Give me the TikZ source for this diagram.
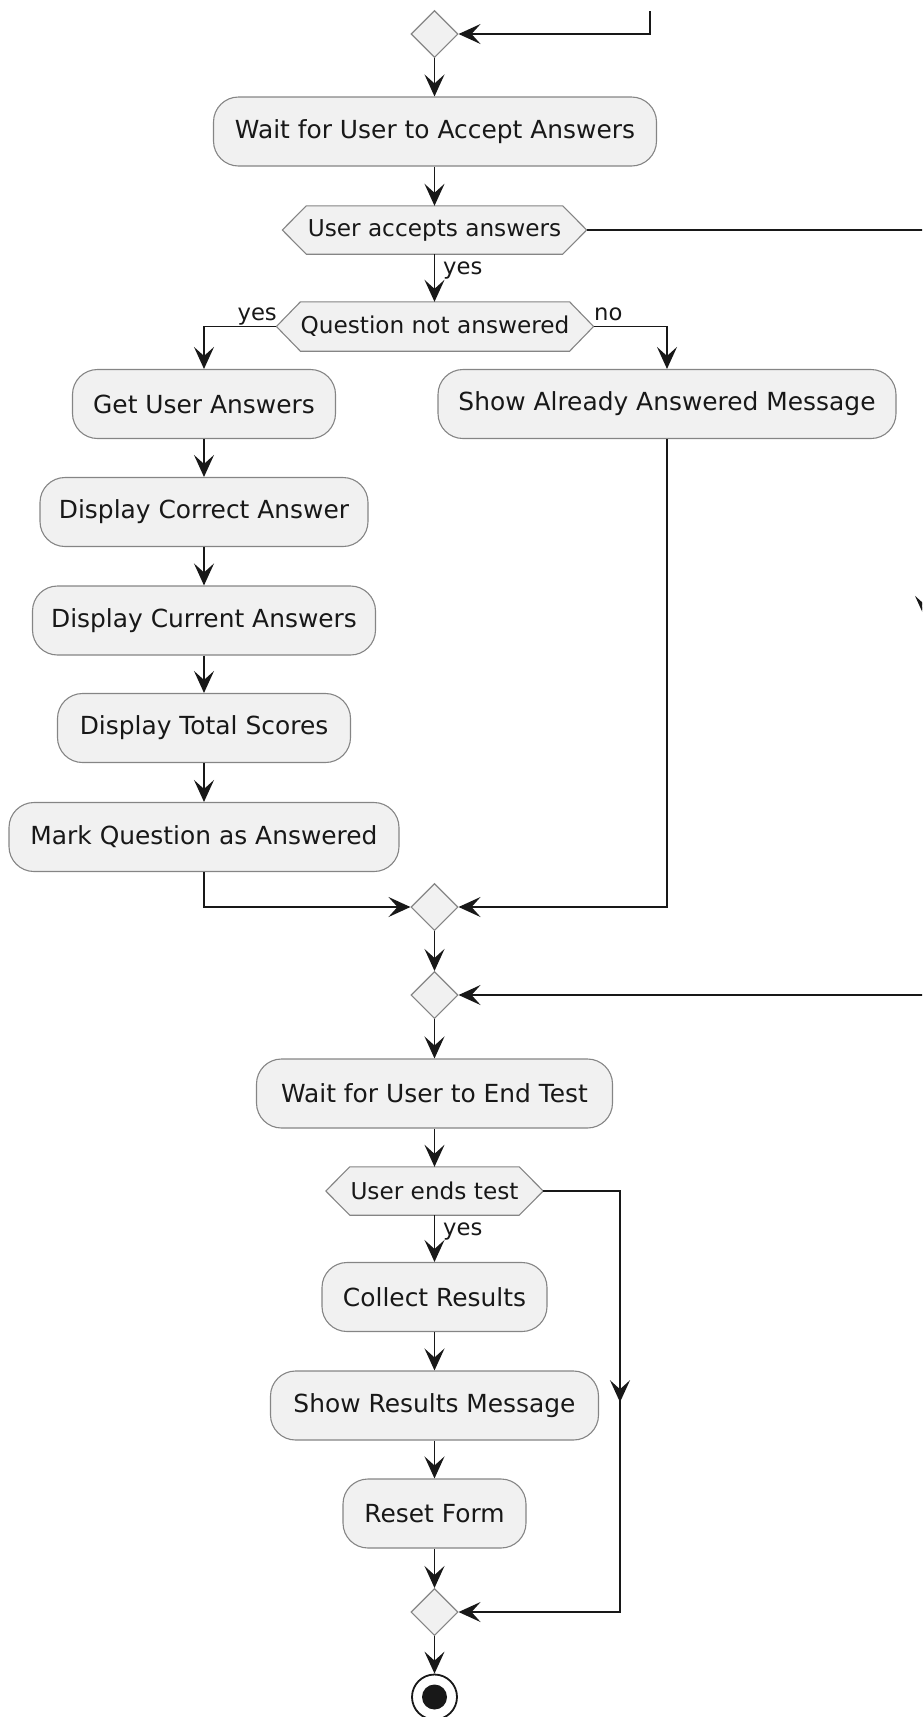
\documentclass[tikz,border=0pt]{standalone}
\usepackage{fontspec}
\setmainfont{DejaVu Sans}
\usetikzlibrary{arrows.meta,shapes.geometric,calc,decorations.markings}
\pgfdeclarelayer{bg}
\pgfsetlayers{bg,main}
\definecolor{boxfill}{HTML}{F1F1F1}
\definecolor{boxline}{HTML}{858585}
\definecolor{ink}{HTML}{181818}
\tikzset{
  pu/.tip={Stealth[length=22pt,width=20pt,inset=9pt]},
  act/.style={rectangle, rounded corners=25pt, draw=boxline, fill=boxfill, line width=1.1pt,
    minimum height=69pt, inner xsep=2pt, font=\fontsize{24.9}{29}\selectfont, text=ink},
  hexnode/.style={rectangle, inner sep=0pt, minimum height=48pt, font=\fontsize{23.2}{27}\selectfont, text=ink},
  hexline/.style={draw=boxline, fill=boxfill, line width=1.1pt},
  merge/.style={diamond, draw=boxline, fill=boxfill, line width=1.1pt, minimum width=47pt,
    minimum height=47pt, inner sep=0pt},
  lbl/.style={font=\fontsize{22.7}{27}\selectfont, text=ink, inner sep=0pt},
  flow/.style={draw=ink, line width=1.7pt, -{pu}},
  plain/.style={draw=ink, line width=1.7pt},
  midarrow/.style={postaction={decorate, decoration={markings, mark=at position #1 with {\arrow{pu}}}}},
}
\newcommand\hexframe[1]{%
  \coordinate (#1-e) at ($(#1.east)+(24,0)$);
  \coordinate (#1-w) at ($(#1.west)+(-24,0)$);
  \begin{pgfonlayer}{bg}
    \path[hexline] (#1.north west) -- (#1.north east) -- (#1-e) -- (#1.south east)
      -- (#1.south west) -- (#1-w) -- cycle;
  \end{pgfonlayer}}
\begin{document}
\begin{tikzpicture}[x=1pt,y=-1pt]
\useasboundingbox (0,0) rectangle (922,1717);
\clip (0,0) rectangle (922,1717);

% top part
\coordinate (tl) at (650,11);
\node[merge] (d0) at (434.5,34) {};
\node[act, minimum width=443pt] (b1) at (435,131.5) {Wait for User to Accept Answers};
\node[hexnode, minimum width=256pt] (h1) at (434.5,230) {User accepts answers};
\hexframe{h1}
\node[hexnode, minimum width=265pt, minimum height=49pt] (h2) at (435,326.5) {Question not answered};
\hexframe{h2}

% left branch
\node[act, minimum width=263pt] (gua) at (204,404) {Get User Answers};
\node[act, minimum width=328pt] (dca) at (204,512) {Display Correct Answer};
\node[act, minimum width=343pt] (dcur) at (204,620.5) {Display Current Answers};
\node[act, minimum width=293pt] (dts) at (204,728) {Display Total Scores};
\node[act, minimum width=390pt] (mqa) at (204,837) {Mark Question as Answered};

% right branch
\node[act, minimum width=458pt] (saam) at (667,404) {Show Already Answered Message};

% merges
\node[merge] (m1) at (434.5,907) {};
\node[merge] (m2) at (434.5,995) {};

% lower part
\node[act, minimum width=356pt] (wue) at (434.5,1093.5) {Wait for User to End Test};
\node[hexnode, minimum width=169pt] (h3) at (434.5,1191) {User ends test};
\hexframe{h3}
\node[act, minimum width=225pt] (cr) at (434.5,1297) {Collect Results};
\node[act, minimum width=328pt] (srm) at (434.5,1405.5) {Show Results Message};
\node[act, minimum width=183pt] (rf) at (434.5,1513.5) {Reset Form};
\node[merge] (m3) at (434.5,1612) {};
\node[circle, draw=ink, fill=white, line width=1.8pt, minimum size=45pt, inner sep=0pt] (end) at (434.5,1697) {};
\node[circle, fill=ink, minimum size=25pt, inner sep=0pt] (endin) at (end.center) {};

% labels
\node[lbl, anchor=base west] (l1) at (443,274) {yes};
\node[lbl, anchor=base east] (l2) at (277,320) {yes};
\node[lbl, anchor=base west] (l3) at (594,320) {no};
\node[lbl, anchor=base west] (l4) at (443,1235) {yes};

% connectors
\draw[flow] (tl) |- (d0.east);
\draw[flow] (d0.south) -- (b1.north -| d0.south);
\draw[flow] (b1.south -| d0.south) -- (h1.north);
\draw[flow] (h1.south) -- (h2.north -| h1.south);
\draw[flow] (h2-w) -| (gua.north);
\draw[flow] (h2-e) -| (saam.north);
\draw[flow] (gua.south) -- (dca.north);
\draw[flow] (dca.south) -- (dcur.north);
\draw[flow] (dcur.south) -- (dts.north);
\draw[flow] (dts.south) -- (mqa.north);
\draw[flow] (mqa.south) |- (m1.west);
\draw[flow] (saam.south) |- (m1.east);
\draw[flow] (m1.south) -- (m2.north);

\coordinate (rt) at (925,230);
\coordinate (rb) at (925,995);
\draw[plain] (h1-e) -- (rt);
\draw[plain, midarrow=0.507] (rt) -- (rb);
\draw[flow] (rb) -- (m2.east);

\draw[flow] (m2.south) -- (wue.north);
\draw[flow] (wue.south) -- (h3.north);
\draw[flow] (h3.south) -- (cr.north);
\draw[flow] (cr.south) -- (srm.north);
\draw[flow] (srm.south) -- (rf.north);
\draw[flow] (rf.south) -- (m3.north);
\coordinate (r3) at (620,1191);
\draw[flow, line join=miter, midarrow=288pt] (h3-e) -- (r3) |- (m3.east);
\draw[flow] (m3.south) -- (end.north);
\end{tikzpicture}
\end{document}
